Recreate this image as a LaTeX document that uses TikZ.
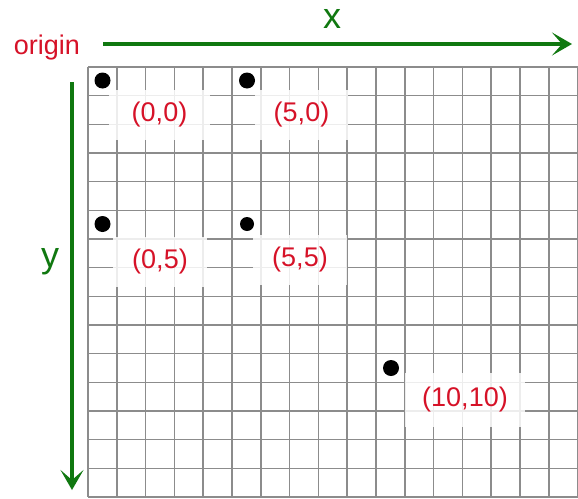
\documentclass[tikz,border=0pt]{standalone}
\usepackage{fontspec}
\setmainfont{Liberation Sans}
\usetikzlibrary{arrows.meta}
\definecolor{lblred}{RGB}{214,18,40}
\definecolor{axgreen}{RGB}{16,120,16}
\definecolor{gridgray}{RGB}{140,140,140}
\tikzset{
  gridline/.style={draw=gridgray,line width=1.5pt},
  dotmark/.style={circle,fill=black,inner sep=0pt,minimum size=16pt},
  smalldot/.style={dotmark,minimum size=14pt},
  coordlabel/.style={fill=white,fill opacity=0.85,text opacity=1,text=lblred,
    font=\fontsize{27}{30}\selectfont,inner sep=0pt,minimum height=50pt},
  axisarrow/.style={draw=axgreen,line width=3.8pt,
    -{Stealth[length=20pt,width=23pt,inset=10pt]}},
  axlabel/.style={text=axgreen,font=\fontsize{36}{40}\selectfont,inner sep=0pt}
}
\begin{document}
\begin{tikzpicture}[x=1pt,y=-1pt]
\useasboundingbox (0,0) rectangle (578,498);
% grid
\foreach \i in {0,...,17}
  \draw[gridline] ({88+\i*28.8},67) -- ({88+\i*28.8},497.2);
\foreach \j in {0,...,15}
  \draw[gridline] (88,{67+\j*28.667}) -- (578,{67+\j*28.667});
% dots
\node[dotmark] (d00) at (102.5,80.5) {};
\node[dotmark] (d50) at (247,80.5) {};
\node[dotmark] (d05) at (102.5,224) {};
\node[smalldot] (d55) at (247,224) {};
\node[dotmark] (d1010) at (391,368) {};
% labels
\node[coordlabel,minimum width=101pt] (l00) at (159.5,115) {(0,0)};
\node[coordlabel,minimum width=93pt] (l50) at (301.5,115) {(5,0)};
\node[coordlabel,minimum width=94pt] (l05) at (160,262) {(0,5)};
\node[coordlabel,minimum width=94pt] (l55) at (300,259.5) {(5,5)};
\node[coordlabel,minimum width=120pt,minimum height=54pt] (l1010) at (465,400) {(10,10)};
% axes
\coordinate (xstart) at (103,44);
\coordinate (xend) at (572,44);
\coordinate (ystart) at (72,82);
\coordinate (yend) at (72,490);
\draw[axisarrow] (xstart) -- (xend);
\draw[axisarrow] (ystart) -- (yend);
\node[text=lblred,font=\fontsize{27}{30}\selectfont,inner sep=0pt] (origin) at (47,48) {origin};
\node[axlabel] (xlab) at (332,19) {x};
\node[axlabel] (ylab) at (50,262) {y};
\end{tikzpicture}
\end{document}
